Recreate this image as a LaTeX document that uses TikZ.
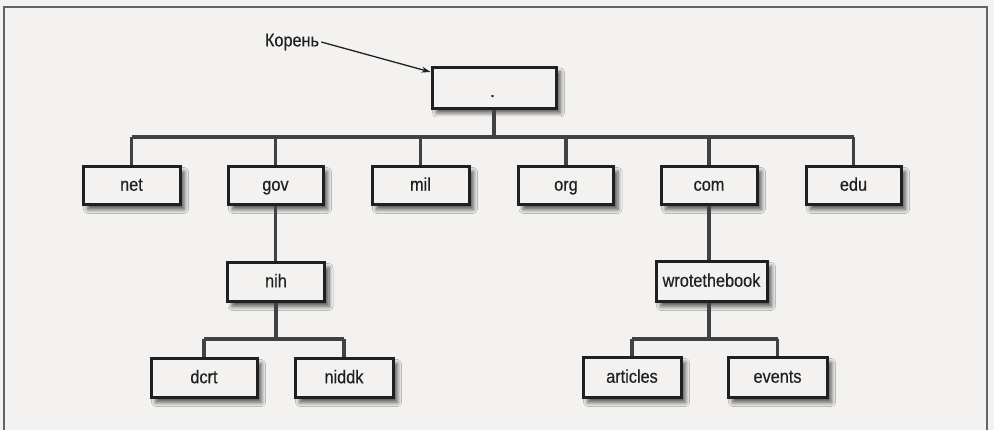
\documentclass[tikz,border=0pt]{standalone}
\usepackage{fontspec}
\setmainfont{Liberation Sans}[FakeStretch=0.88,FakeBold=0.4]
\usetikzlibrary{shadows.blur,arrows.meta}
\definecolor{paper}{HTML}{F3F2F0}
\definecolor{ink}{HTML}{202020}
\tikzset{
  dom/.style={draw=ink, line width=3pt, fill=paper, minimum height=39pt,
    inner sep=0pt, text height=13.5pt, text depth=4pt,
    font=\fontsize{18.5}{20}\selectfont, text=ink,
    blur shadow={shadow xshift=4.5pt, shadow yshift=-4.5pt, shadow blur radius=4pt,
      shadow blur steps=8, shadow opacity=65}},
  link/.style={draw=ink!85, line width=3.6pt},
  pointer/.style={draw=ink, line width=1.3pt, -{Stealth[length=9pt,width=6pt]}}
}
\begin{document}
\begin{tikzpicture}[x=1pt,y=-1pt]
\fill[paper] (0,0) rectangle (994,430);
\useasboundingbox (0,0) rectangle (994,430);
\draw[ink!70, line width=1.2pt] (4,440) -- (4,7) -- (987,7) -- (987,440);

% bar coordinates
\coordinate (b1) at (0,137);
\coordinate (b2) at (0,339);

\node[dom, minimum width=124pt, minimum height=41pt] (root) at (494,88) {};
\node[dom, minimum width=97pt, minimum height=38pt] (net) at (131.5,186) {net};
\node[dom, minimum width=95pt, minimum height=38pt] (gov) at (275.5,186) {gov};
\node[dom, minimum width=97pt, minimum height=38pt] (mil) at (420.5,186) {mil};
\node[dom, minimum width=95pt, minimum height=38pt] (org) at (566,186) {org};
\node[dom, minimum width=96pt, minimum height=38pt] (com) at (709,186) {com};
\node[dom, minimum width=95pt, minimum height=38pt] (edu) at (853.5,186) {edu};
\node[dom, minimum width=97pt] (nih) at (276,282.5) {nih};
\node[dom, minimum width=106pt] (dcrt) at (204,378.5) {dcrt};
\node[dom, minimum width=98pt] (niddk) at (344,378.5) {niddk};
\node[dom, minimum width=111pt, minimum height=40pt] (wtb) at (711.5,282) {wrotethebook};
\node[dom, minimum width=98pt, minimum height=40pt] (art) at (632,378) {articles};
\node[dom, minimum width=99pt, minimum height=40pt] (evt) at (777.5,378) {events};
\node[font=\fontsize{18}{20}\selectfont, text=ink, anchor=base] (dot) at (492.5,97) {.};

% tree links
\draw[link] (root.south) -- (root.south |- b1);
\draw[link] (net.north |- b1) -- (edu.north |- b1);
\foreach \n in {net,gov,mil,org,com,edu}{
  \draw[link] (\n.north |- b1) -- (\n.north);
}
\draw[link] (gov.south) -- (gov.south |- nih.north);
\draw[link] (com.south) -- (com.south |- wtb.north);
\draw[link] (nih.south) -- (nih.south |- b2);
\draw[link] (dcrt.north |- b2) -- (niddk.north |- b2);
\draw[link] (dcrt.north |- b2) -- (dcrt.north);
\draw[link] (niddk.north |- b2) -- (niddk.north);
\draw[link] (wtb.south -| com.south) -- (com.south |- b2);
\draw[link] (art.north |- b2) -- (evt.north |- b2);
\draw[link] (art.north |- b2) -- (art.north);
\draw[link] (evt.north |- b2) -- (evt.north);

% root label and pointer
\node[font=\fontsize{18.5}{20}\selectfont, text=ink, inner sep=2pt] (lbl) at (292,42) {Корень};
\draw[pointer] (lbl.east) -- ([yshift=-6pt]root.north west);
\end{tikzpicture}
\end{document}
